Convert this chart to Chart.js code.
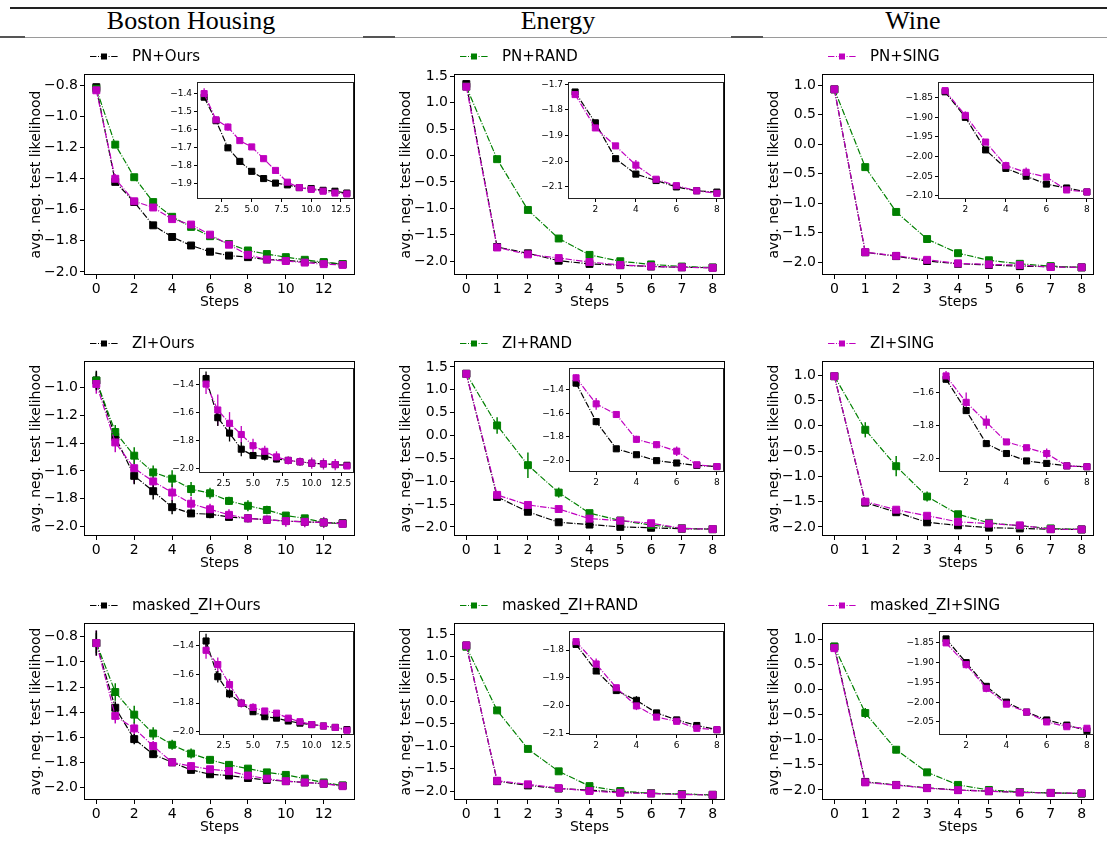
<!DOCTYPE html>
<html><head><meta charset="utf-8">
<script src="https://cdn.jsdelivr.net/npm/chart.js@4.4.0/dist/chart.umd.min.js"></script>
<style>
body{margin:0;background:#fff;}
#wrap{position:relative;width:1107px;height:845px;overflow:hidden;background:#fff;}
.hdr{position:absolute;font-family:"Liberation Serif","Times New Roman",serif;font-size:26px;line-height:26px;color:#000;top:8px;transform:translateX(-50%);white-space:nowrap;}
.ln{position:absolute;}
canvas{position:absolute;}
</style></head><body><div id="wrap">
<div class="ln" style="left:10px;top:7px;width:1097px;height:1.5px;background:#222"></div>
<div class="ln" style="left:0;top:37px;width:1107px;height:1px;background:#9a9a9a"></div>
<div class="ln" style="left:0;top:36px;width:25px;height:2px;background:#555"></div>
<div class="ln" style="left:363px;top:36px;width:32px;height:2px;background:#555"></div>
<div class="ln" style="left:731px;top:36px;width:32px;height:2px;background:#555"></div>
</div>
<script>
// ---------- data ----------
const columnTitles = ['Boston Housing', 'Energy', 'Wine'];
const legendLabels = [
  ['PN+Ours', 'PN+RAND', 'PN+SING'],
  ['ZI+Ours', 'ZI+RAND', 'ZI+SING'],
  ['masked_ZI+Ours', 'masked_ZI+RAND', 'masked_ZI+SING']
];
const stepsBoston = [0,1,2,3,4,5,6,7,8,9,10,11,12,13];
const stepsShort = [0,1,2,3,4,5,6,7,8];

// Boston Housing, PN
const bostonPN_ours = [-0.81,-1.42,-1.55,-1.70,-1.775,-1.83,-1.87,-1.895,-1.905,-1.92,-1.925,-1.935,-1.94,-1.95];
const bostonPN_rand = [-0.82,-1.18,-1.39,-1.55,-1.645,-1.71,-1.77,-1.82,-1.862,-1.885,-1.905,-1.922,-1.937,-1.95];
const bostonPN_sing = [-0.83,-1.40,-1.545,-1.585,-1.66,-1.695,-1.76,-1.825,-1.89,-1.92,-1.93,-1.94,-1.95,-1.955];
const bostonPN_oursErr = [0.01,0.015,0.01,0.01,0.008,0.006,0.005,0.005,0.005,0.005,0.005,0.005,0.005,0.005];
const bostonPN_randErr = [0.01,0.01,0.01,0.01,0.01,0.008,0.008,0.006,0.006,0.005,0.005,0.005,0.005,0.005];
const bostonPN_singErr = [0.01,0.03,0.02,0.02,0.01,0.01,0.01,0.01,0.01,0.005,0.005,0.005,0.005,0.005];

// Energy, PN
const energyPN_ours = [1.35,-1.73,-1.85,-1.99,-2.05,-2.075,-2.10,-2.115,-2.12];
const energyPN_rand = [1.30,-0.07,-1.03,-1.57,-1.88,-2.00,-2.06,-2.10,-2.12];
const energyPN_sing = [1.30,-1.74,-1.87,-1.94,-2.015,-2.07,-2.095,-2.115,-2.125];
const energyPN_oursErr = [0.02,0.01,0.01,0.01,0.01,0.005,0.005,0.005,0.005];
const energyPN_randErr = [0.02,0.02,0.02,0.01,0.01,0.01,0.005,0.005,0.005];
const energyPN_singErr = [0.02,0.01,0.01,0.01,0.02,0.01,0.005,0.005,0.005];

// Wine, PN
const winePN_ours = [0.93,-1.835,-1.90,-1.983,-2.03,-2.05,-2.07,-2.08,-2.09];
const winePN_rand = [0.93,-0.39,-1.15,-1.61,-1.85,-1.97,-2.03,-2.07,-2.09];
const winePN_sing = [0.93,-1.832,-1.895,-1.963,-2.023,-2.04,-2.052,-2.085,-2.09];
const winePN_oursErr = [0.02,0.005,0.005,0.005,0.005,0.005,0.005,0.005,0.003];
const winePN_randErr = [0.02,0.02,0.02,0.01,0.01,0.01,0.005,0.005,0.003];
const winePN_singErr = [0.02,0.005,0.01,0.005,0.01,0.012,0.008,0.005,0.003];

// Boston Housing, ZI
const bostonZI_ours = [-0.95,-1.355,-1.635,-1.745,-1.86,-1.905,-1.91,-1.93,-1.94,-1.95,-1.96,-1.965,-1.97,-1.975];
const bostonZI_rand = [-0.95,-1.32,-1.49,-1.61,-1.655,-1.73,-1.76,-1.815,-1.85,-1.88,-1.92,-1.94,-1.97,-1.98];
const bostonZI_sing = [-0.975,-1.395,-1.58,-1.675,-1.755,-1.835,-1.875,-1.915,-1.94,-1.95,-1.96,-1.965,-1.97,-1.98];
const bostonZI_oursErr = [0.07,0.05,0.06,0.06,0.05,0.02,0.03,0.02,0.02,0.01,0.01,0.01,0.01,0.01];
const bostonZI_randErr = [0.06,0.05,0.06,0.05,0.06,0.05,0.04,0.03,0.04,0.03,0.02,0.01,0.01,0.01];
const bostonZI_singErr = [0.07,0.07,0.11,0.08,0.06,0.05,0.04,0.04,0.03,0.03,0.04,0.04,0.04,0.02];

// Energy, ZI
const energyZI_ours = [1.35,-1.345,-1.67,-1.90,-1.95,-2.00,-2.02,-2.04,-2.05];
const energyZI_rand = [1.35,0.22,-0.65,-1.25,-1.70,-1.86,-1.96,-2.03,-2.05];
const energyZI_sing = [1.35,-1.30,-1.52,-1.61,-1.82,-1.865,-1.92,-2.035,-2.05];
const energyZI_oursErr = [0.05,0.03,0.03,0.01,0.01,0.01,0.01,0.01,0.005];
const energyZI_randErr = [0.05,0.18,0.28,0.11,0.07,0.05,0.04,0.02,0.01];
const energyZI_singErr = [0.05,0.03,0.05,0.03,0.03,0.03,0.04,0.01,0.01];

// Wine, ZI
const wineZI_ours = [0.98,-1.52,-1.71,-1.91,-1.97,-2.015,-2.03,-2.045,-2.05];
const wineZI_rand = [0.98,-0.08,-0.80,-1.40,-1.75,-1.92,-1.98,-2.03,-2.05];
const wineZI_sing = [0.98,-1.50,-1.66,-1.78,-1.90,-1.935,-1.97,-2.045,-2.05];
const wineZI_oursErr = [0.05,0.02,0.02,0.01,0.01,0.01,0.01,0.01,0.005];
const wineZI_randErr = [0.05,0.15,0.2,0.1,0.05,0.03,0.02,0.01,0.01];
const wineZI_singErr = [0.05,0.03,0.06,0.04,0.01,0.01,0.03,0.01,0.01];

// Boston Housing, masked_ZI
const bostonMZI_ours = [-0.85,-1.365,-1.615,-1.735,-1.80,-1.86,-1.895,-1.905,-1.925,-1.94,-1.95,-1.96,-1.97,-1.985];
const bostonMZI_rand = [-0.85,-1.24,-1.42,-1.57,-1.66,-1.73,-1.78,-1.82,-1.85,-1.88,-1.90,-1.93,-1.96,-1.985];
const bostonMZI_sing = [-0.85,-1.43,-1.53,-1.67,-1.80,-1.83,-1.855,-1.87,-1.905,-1.93,-1.95,-1.96,-1.97,-1.99];
const bostonMZI_oursErr = [0.1,0.05,0.04,0.03,0.02,0.02,0.02,0.01,0.01,0.01,0.01,0.01,0.01,0.01];
const bostonMZI_randErr = [0.08,0.07,0.07,0.05,0.04,0.04,0.03,0.03,0.02,0.02,0.02,0.01,0.01,0.01];
const bostonMZI_singErr = [0.1,0.06,0.05,0.04,0.03,0.03,0.02,0.02,0.02,0.01,0.01,0.01,0.01,0.01];

// Energy, masked_ZI
const energyMZI_ours = [1.25,-1.78,-1.875,-1.945,-1.98,-2.025,-2.05,-2.07,-2.085];
const energyMZI_rand = [1.22,-0.20,-1.06,-1.56,-1.89,-2.00,-2.05,-2.07,-2.085];
const energyMZI_sing = [1.25,-1.77,-1.85,-1.935,-2.00,-2.04,-2.055,-2.08,-2.085];
const energyMZI_oursErr = [0.03,0.005,0.01,0.01,0.015,0.005,0.005,0.005,0.005];
const energyMZI_randErr = [0.03,0.02,0.02,0.02,0.02,0.01,0.01,0.005,0.005];
const energyMZI_singErr = [0.03,0.01,0.02,0.01,0.015,0.005,0.005,0.005,0.005];

// Wine, masked_ZI
const wineMZI_ours = [0.85,-1.84,-1.90,-1.96,-2.00,-2.025,-2.045,-2.058,-2.072];
const wineMZI_rand = [0.85,-0.47,-1.20,-1.65,-1.90,-2.00,-2.04,-2.06,-2.07];
const wineMZI_sing = [0.82,-1.85,-1.905,-1.965,-2.005,-2.025,-2.05,-2.062,-2.066];
const wineMZI_oursErr = [0.07,0.005,0.005,0.005,0.005,0.005,0.005,0.005,0.005];
const wineMZI_randErr = [0.07,0.1,0.07,0.03,0.02,0.01,0.01,0.005,0.005];
const wineMZI_singErr = [0.07,0.005,0.01,0.01,0.005,0.005,0.005,0.005,0.005];

// ---------- layout / styling ----------
const COLORS = {ours:'#000000', rand:'#008000', sing:'#bf00bf'};
const colLeft = [84, 454, 822], colRight = [355, 725, 1094];
const rowTop = [74, 361, 623], rowBottom = [275, 536, 800];
const titleCenters = [191, 558, 913];

const panels = [
 [
  {steps:stepsBoston, ours:bostonPN_ours, rand:bostonPN_rand, sing:bostonPN_sing, oe:bostonPN_oursErr, re:bostonPN_randErr, se:bostonPN_singErr,
   x:[-0.65,13.65,2,0], y:[-2.02,-0.725,0.2,1], inset:{l:197,t:82,r:354,b:199,x:[0.4,13.6,2.5,1],y:[-1.983,-1.336,0.1,1]}},
  {steps:stepsShort, ours:energyPN_ours, rand:energyPN_rand, sing:energyPN_sing, oe:energyPN_oursErr, re:energyPN_randErr, se:energyPN_singErr,
   x:[-0.4,8.4,1,0], y:[-2.26,1.54,0.5,1], inset:{l:568,t:82,r:724,b:199,x:[0.65,8.35,2,0],y:[-2.147,-1.691,0.1,1]}},
  {steps:stepsShort, ours:winePN_ours, rand:winePN_rand, sing:winePN_sing, oe:winePN_oursErr, re:winePN_randErr, se:winePN_singErr,
   x:[-0.4,8.4,1,0], y:[-2.22,1.19,0.5,1], inset:{l:938,t:82,r:1094,b:199,x:[0.65,8.35,2,0],y:[-2.108,-1.81,0.05,2]}}
 ],
 [
  {steps:stepsBoston, ours:bostonZI_ours, rand:bostonZI_rand, sing:bostonZI_sing, oe:bostonZI_oursErr, re:bostonZI_randErr, se:bostonZI_singErr,
   x:[-0.65,13.65,2,0], y:[-2.067,-0.81,0.2,1], inset:{l:199,t:368,r:354,b:473,x:[0.4,13.6,2.5,1],y:[-2.03,-1.28,0.2,1]}},
  {steps:stepsShort, ours:energyZI_ours, rand:energyZI_rand, sing:energyZI_sing, oe:energyZI_oursErr, re:energyZI_randErr, se:energyZI_singErr,
   x:[-0.4,8.4,1,0], y:[-2.2,1.63,0.5,1], inset:{l:569,t:368,r:724,b:472,x:[0.65,8.35,2,0],y:[-2.096,-1.217,0.2,1]}},
  {steps:stepsShort, ours:wineZI_ours, rand:wineZI_rand, sing:wineZI_sing, oe:wineZI_oursErr, re:wineZI_randErr, se:wineZI_singErr,
   x:[-0.4,8.4,1,0], y:[-2.18,1.28,0.5,1], inset:{l:939,t:368,r:1094,b:472,x:[0.65,8.35,2,0],y:[-2.082,-1.452,0.2,1]}}
 ],
 [
  {steps:stepsBoston, ours:bostonMZI_ours, rand:bostonMZI_rand, sing:bostonMZI_sing, oe:bostonMZI_oursErr, re:bostonMZI_randErr, se:bostonMZI_singErr,
   x:[-0.65,13.65,2,0], y:[-2.10,-0.69,0.2,1], inset:{l:199,t:631,r:354,b:735,x:[0.4,13.6,2.5,1],y:[-2.023,-1.295,0.2,1]}},
  {steps:stepsShort, ours:energyMZI_ours, rand:energyMZI_rand, sing:energyMZI_sing, oe:energyMZI_oursErr, re:energyMZI_randErr, se:energyMZI_singErr,
   x:[-0.4,8.4,1,0], y:[-2.2,1.75,0.5,1], inset:{l:569,t:631,r:724,b:735,x:[0.65,8.35,2,0],y:[-2.104,-1.732,0.1,1]}},
  {steps:stepsShort, ours:wineMZI_ours, rand:wineMZI_rand, sing:wineMZI_sing, oe:wineMZI_oursErr, re:wineMZI_randErr, se:wineMZI_singErr,
   x:[-0.4,8.4,1,0], y:[-2.2,1.32,0.5,1], inset:{l:939,t:631,r:1094,b:735,x:[0.65,8.35,2,0],y:[-2.083,-1.82,0.05,2]}}
 ]
];

Chart.defaults.font.family = '"DejaVu Sans", sans-serif';
Chart.defaults.color = '#000';

const DASH = [6.4, 1.6, 1, 1.6];
function fmt(v, d){ if (Math.abs(v) < 1e-9) return (0).toFixed(d); return (v < 0 ? '\u2212' : '') + Math.abs(v).toFixed(d); }

const decor = {
  id: 'decor',
  beforeDatasetsDraw(chart, args, o){
    const {ctx, chartArea:a} = chart;
    if (o.fill){ ctx.save(); ctx.fillStyle = '#fff'; ctx.fillRect(a.left, a.top, a.right-a.left, a.bottom-a.top); ctx.restore(); }
    ctx.save();
    ctx.beginPath(); ctx.rect(a.left, a.top, a.right-a.left, a.bottom-a.top); ctx.clip();
    chart.data.datasets.forEach(ds => {
      if (!ds.errors) return;
      ctx.strokeStyle = ds.borderColor; ctx.lineWidth = o.errWidth || 1.5;
      ds.data.forEach((p, j) => {
        const e = ds.errors[j]; if (!e) return;
        const x = chart.scales.x.getPixelForValue(p.x);
        const y1 = chart.scales.y.getPixelForValue(p.y - e), y2 = chart.scales.y.getPixelForValue(p.y + e);
        ctx.beginPath(); ctx.moveTo(x, y1); ctx.lineTo(x, y2); ctx.stroke();
      });
    });
    ctx.restore();
  },
  afterDraw(chart, args, o){
    const {ctx, chartArea:a} = chart;
    ctx.save();
    ctx.strokeStyle = o.frameColor || '#000'; ctx.lineWidth = 1;
    ctx.strokeRect(Math.round(a.left)+0.5, Math.round(a.top)+0.5, Math.round(a.right-a.left)-1, Math.round(a.bottom-a.top)-1);
    if (o.legend){
      const x0 = a.left + 6, yc = Math.round(a.top - 18) + 0.5;
      ctx.strokeStyle = o.legend.color; ctx.lineWidth = 1.2; ctx.setLineDash(DASH);
      ctx.beginPath(); ctx.moveTo(x0, yc); ctx.lineTo(x0 + 28, yc); ctx.stroke();
      ctx.setLineDash([]);
      ctx.fillStyle = o.legend.color; ctx.fillRect(x0 + 14 - 3, yc - 3, 6, 6);
      ctx.fillStyle = '#000'; ctx.font = '15px "DejaVu Sans"'; ctx.textBaseline = 'middle'; ctx.textAlign = 'left';
      ctx.fillText(o.legend.label, x0 + 42, yc + 1);
    }
    ctx.restore();
  }
};

function mkDataset(steps, vals, errs, color, inset){
  const from = inset ? 1 : 0;
  const data = [];
  for (let i = from; i < steps.length; i++) data.push({x: steps[i], y: vals[i]});
  return {
    data, errors: errs.slice(from), borderColor: color, backgroundColor: color,
    pointBackgroundColor: color, pointBorderColor: color, borderWidth: 1.2, borderDash: DASH,
    pointStyle: 'rect', pointRadius: inset ? 4.3 : 4.9, pointBorderWidth: 1, tension: 0, clip: 6
  };
}

function axis(range, fontSize, tickLen, fixed, isX, title){
  const [min, max, step, dec] = range;
  const cfg = {
    type: 'linear', min, max,
    ticks: {stepSize: step, autoSkip: false, maxRotation: 0, includeBounds: false, color: '#000',
            font: {size: fontSize}, padding: 2, callback: v => fmt(v, dec)},
    grid: {drawOnChartArea: false, drawTicks: true, tickLength: tickLen, tickColor: '#000', color: '#000'},
    border: {display: false}
  };
  if (isX) cfg.afterFit = s => { s.height = fixed; };
  else cfg.afterFit = s => { s.width = fixed; };
  if (title) cfg.title = {display: true, text: title, color: '#000', font: {size: 14}, padding: {top: 4, bottom: 4}};
  return cfg;
}

const wrap = document.getElementById('wrap');
columnTitles.forEach((t, i) => {
  const d = document.createElement('div'); d.className = 'hdr'; d.style.left = titleCenters[i] + 'px'; d.textContent = t; wrap.appendChild(d);
});

function addCanvas(l, t, w, h){
  const c = document.createElement('canvas');
  c.width = w; c.height = h; c.style.left = l + 'px'; c.style.top = t + 'px'; c.style.width = w + 'px'; c.style.height = h + 'px';
  wrap.appendChild(c); return c;
}

const insetJobs = [];
panels.forEach((row, r) => row.forEach((p, c) => {
  const L = colLeft[c], R = colRight[c], T = rowTop[r], B = rowBottom[r];
  const cv = addCanvas(L - 60, T - 40, (R - L) + 68, (B - T) + 80);
  const legendKey = ['ours','rand','sing'][c];
  new Chart(cv, {
    type: 'line',
    data: {datasets: [
      mkDataset(p.steps, p.sing, p.se, COLORS.sing, false),
      mkDataset(p.steps, p.rand, p.re, COLORS.rand, false),
      mkDataset(p.steps, p.ours, p.oe, COLORS.ours, false)
    ]},
    options: {
      responsive: false, animation: false, events: [],
      layout: {padding: {top: 40, right: 8, left: 0, bottom: 0}},
      plugins: {legend: {display: false}, tooltip: {enabled: false},
                decor: {legend: {label: legendLabels[r][c], color: COLORS[legendKey]}, errWidth: 1.5, frameColor: '#000'}},
      scales: {
        x: axis(p.x, 14, 4, 40, true, 'Steps'),
        y: axis(p.y, 14, 4, 60, false, 'avg. neg. test likelihood')
      }
    },
    plugins: [decor]
  });
  insetJobs.push(p);
}));

insetJobs.forEach(p => {
  const q = p.inset;
  const cv = addCanvas(q.l - 36, q.t - 8, (q.r - q.l) + 46, (q.b - q.t) + 24);
  new Chart(cv, {
    type: 'line',
    data: {datasets: [
      mkDataset(p.steps, p.sing, p.se, COLORS.sing, true),
      mkDataset(p.steps, p.ours, p.oe, COLORS.ours, true)
    ]},
    options: {
      responsive: false, animation: false, events: [],
      layout: {padding: {top: 8, right: 10, left: 0, bottom: 0}},
      plugins: {legend: {display: false}, tooltip: {enabled: false},
                decor: {fill: true, errWidth: 1.3, frameColor: '#222'}},
      scales: {
        x: axis(q.x, 9, 3, 16, true, null),
        y: axis(q.y, 9, 3, 36, false, null)
      }
    },
    plugins: [decor]
  });
});
</script>
</body></html>
